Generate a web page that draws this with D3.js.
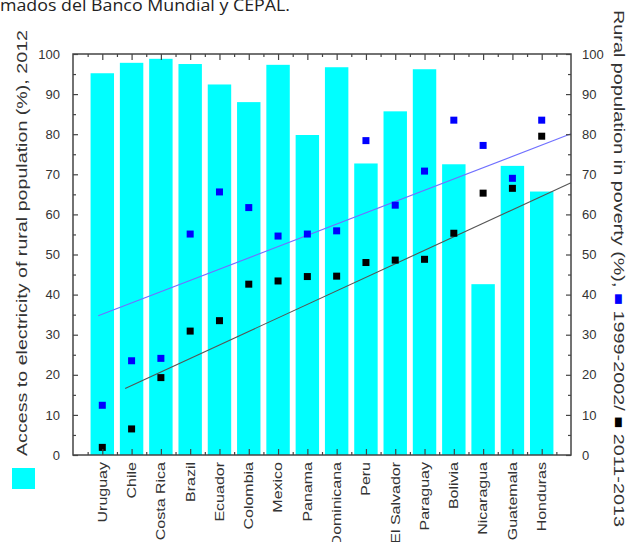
<!DOCTYPE html>
<html><head><meta charset="utf-8">
<script src="https://cdn.jsdelivr.net/npm/d3@7"></script>
<style>body{margin:0;background:#fff;} svg{display:block;}</style>
</head><body><svg id="c" width="642" height="542"></svg>
<script>
const categories = ["Uruguay","Chile","Costa Rica","Brazil","Ecuador","Colombia","Mexico","Panama","Dominicana","Peru","El Salvador","Paraguay","Bolivia","Nicaragua","Guatemala","Honduras"];
const electricity2012 = [95.2, 97.8, 98.8, 97.5, 92.4, 88.0, 97.3, 79.8, 96.7, 72.7, 85.7, 96.2, 72.5, 42.6, 72.1, 65.7];
const poverty1999 = [12.4, 23.5, 24.1, 55.1, 65.6, 61.7, 54.6, 55.1, 55.9, 78.4, 62.3, 70.8, 83.5, 77.2, 69.0, 83.5];
const poverty2011 = [1.9, 6.5, 19.3, 30.9, 33.5, 42.6, 43.4, 44.5, 44.6, 48.0, 48.6, 48.8, 55.3, 65.3, 66.5, 79.5];
const trendX1999 = [0.86, 17];
const trendY1999 = [34.7, 80.1];
const trendX2011 = [1.78, 17];
const trendY2011 = [16.6, 67.9];
const yTicks = [0,10,20,30,40,50,60,70,80,90,100];
const yMinorTicks = [5,15,25,35,45,55,65,75,85,95];
const leftTitle = "Access to electricity of rural population (%), 2012";
const rightTitleParts = ["Rural population in poverty (%), ", "\u25A0", " 1999-2002/ ", "\u25A0", " 2011-2013"];
const caption = "mados del Banco Mundial y CEPAL.";

const svg = d3.select("#c");
const L = 73, R = 571, T = 54, B = 455;
const x = d3.scaleLinear().domain([0, 17]).range([L, R]);
const y = d3.scaleLinear().domain([0, 100]).range([B, T]);
const y2 = d3.scaleLinear().domain([0, 100]).range([B, T]);
const idx = categories.map((c, i) => i + 1);
const bw = x(0.8) - x(0);
const FONT = "Liberation Sans, Arial, sans-serif";
const TXT = "#333";

// caption fragment at top
svg.append("text").attr("x", 0).attr("y", 11).attr("font-family", "Open Sans, Noto Sans, sans-serif")
  .attr("font-size", 17).attr("fill", "#222").attr("textLength", 290).attr("lengthAdjust", "spacingAndGlyphs")
  .text(caption);

// bars
svg.append("g").selectAll("rect").data(electricity2012).join("rect")
  .attr("x", (d, i) => x(i + 1) - bw / 2).attr("width", bw)
  .attr("y", d => y(d)).attr("height", d => y(0) - y(d))
  .attr("fill", "#00ffff");

// trend lines
const line = d3.line().x(d => x(d[0])).y(d => y2(d[1]));
svg.append("path").datum(trendX1999.map((v, i) => [v, trendY1999[i]]))
  .attr("d", line).attr("stroke", "#7070ff").attr("stroke-width", 1.1).attr("fill", "none");
svg.append("path").datum(trendX2011.map((v, i) => [v, trendY2011[i]]))
  .attr("d", line).attr("stroke", "#555").attr("stroke-width", 1.1).attr("fill", "none");

// squares
const sq = 7;
svg.append("g").selectAll("rect").data(poverty1999).join("rect")
  .attr("x", (d, i) => x(i + 1) - sq / 2).attr("y", d => y2(d) - sq / 2)
  .attr("width", sq).attr("height", sq).attr("fill", "#0000ff");
svg.append("g").selectAll("rect").data(poverty2011).join("rect")
  .attr("x", (d, i) => x(i + 1) - sq / 2).attr("y", d => y2(d) - sq / 2)
  .attr("width", sq).attr("height", sq).attr("fill", "#000");

// axes
function style(g) {
  g.select(".domain").remove();
  g.selectAll("line").attr("stroke", "#444").attr("stroke-width", 1.2);
  g.selectAll("text").attr("font-family", FONT).attr("font-size", 13).attr("fill", TXT);
}
svg.append("g").attr("transform", `translate(${L},0)`)
  .call(d3.axisLeft(y).tickValues(yTicks).tickSize(-5).tickPadding(13)).call(style);
svg.append("g").attr("transform", `translate(${L},0)`)
  .call(d3.axisLeft(y).tickValues(yMinorTicks).tickSize(-3).tickFormat("")).call(style);
svg.append("g").attr("transform", `translate(${R},0)`)
  .call(d3.axisRight(y2).tickValues(yTicks).tickSize(-5).tickPadding(11)).call(style);
svg.append("g").attr("transform", `translate(${R},0)`)
  .call(d3.axisRight(y2).tickValues(yMinorTicks).tickSize(-3).tickFormat("")).call(style);
const minorX = d3.range(0.5, 17, 1);
svg.append("g").attr("transform", `translate(0,${B})`)
  .call(d3.axisBottom(x).tickValues(idx).tickSize(-6).tickFormat("")).call(style);
svg.append("g").attr("transform", `translate(0,${B})`)
  .call(d3.axisBottom(x).tickValues(minorX).tickSize(-3).tickFormat("")).call(style);
svg.append("g").attr("transform", `translate(0,${T})`)
  .call(d3.axisTop(x).tickValues(idx).tickSize(-6).tickFormat("")).call(style);
svg.append("g").attr("transform", `translate(0,${T})`)
  .call(d3.axisTop(x).tickValues(minorX).tickSize(-3).tickFormat("")).call(style);

// frame
svg.append("rect").attr("x", L).attr("y", T).attr("width", R - L).attr("height", B - T)
  .attr("fill", "none").attr("stroke", "#444").attr("stroke-width", 1.5);

// category labels
svg.append("g").selectAll("text").data(categories).join("text")
  .attr("transform", (d, i) => `translate(${x(i + 1)},${B + 7}) rotate(-90) scale(1.28,1)`)
  .attr("text-anchor", "end").attr("dy", "0.35em")
  .attr("font-family", FONT).attr("font-size", 12.5).attr("fill", TXT)
  .text(d => d);

// left title
svg.append("text").attr("transform", `translate(27,456) rotate(-90)`)
  .attr("font-family", FONT).attr("font-size", 14).attr("fill", TXT)
  .attr("textLength", 426).attr("lengthAdjust", "spacingAndGlyphs")
  .text(leftTitle);

// legend square for bars
svg.append("rect").attr("x", 12).attr("y", 468).attr("width", 23).attr("height", 21).attr("fill", "#00ffff");

// right title
const rt = svg.append("text").attr("transform", `translate(614,10) rotate(90)`)
  .attr("font-family", FONT).attr("font-size", 14).attr("fill", TXT)
  .attr("textLength", 517).attr("lengthAdjust", "spacingAndGlyphs");
const partColors = [TXT, "#0000ff", TXT, "#000", TXT];
rightTitleParts.forEach((p, i) => rt.append("tspan").attr("fill", partColors[i]).text(p));
</script></body></html>
